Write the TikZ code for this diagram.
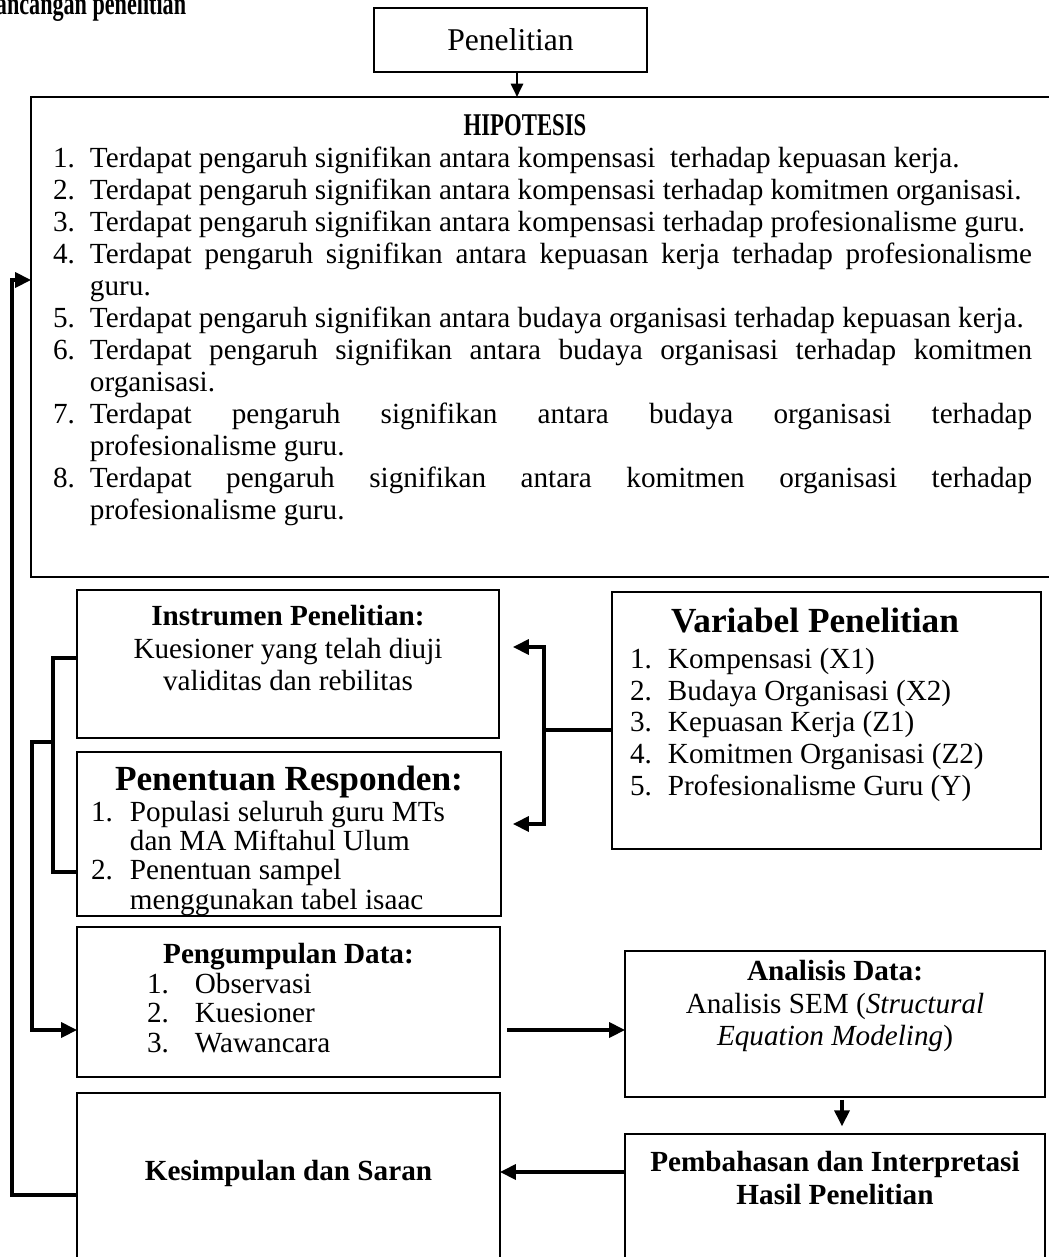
\documentclass[tikz,border=0pt]{standalone}
\usepackage{fontspec}
\usepackage{graphicx}
\setmainfont{Liberation Serif}
\usetikzlibrary{arrows.meta}
\newcommand\bodyf{\fontsize{12pt}{13.15pt}\selectfont}
\newcommand\bigf{\fontsize{14.5pt}{16pt}\selectfont}
\newcommand\nm[2]{\makebox[#1][l]{#2}}
\newcommand\jst[1]{\makebox[387.2pt][s]{#1}}
\newcommand\mkbox[5]{\node[box, anchor=north west, minimum width={(#4-#2)*0.411pt}, minimum height={(#5-#3)*0.411pt}] (#1) at (#2,#3) {};}
\begin{document}
\begin{tikzpicture}[x=0.411pt,y=-0.411pt,
  box/.style={draw, line width=0.6pt, inner sep=0pt, outer sep=0pt},
  txt/.style={inner sep=0pt, outer sep=0pt, font=\bodyf},
  conn/.style={line width=1.25pt},
  arr/.style={conn, -{Triangle[length=6.5pt,width=6.2pt]}},
  darr/.style={conn, {Triangle[length=6.5pt,width=6.2pt]}-{Triangle[length=6.5pt,width=6.2pt]}},
  thinarr/.style={line width=1pt, -{Triangle[length=5.5pt,width=5pt]}}]
\useasboundingbox (0,0) rectangle (1049,1257);
\begin{scope}
\clip (0,0) rectangle (1049,1257);
% title
\node[txt, anchor=base west, font=\fontsize{13pt}{15pt}\selectfont\bfseries] (title) at (-4,15) {\scalebox{0.7}[1]{ancangan penelitian}};
% Penelitian
\mkbox{pen}{374}{8}{647}{72}
\node[txt, font=\fontsize{13pt}{15pt}\selectfont] (pent) at (pen.center) {Penelitian};
% Hipotesis
\mkbox{hyp}{31}{97}{1080}{577}
\node[txt, anchor=base, font=\fontsize{13pt}{15pt}\selectfont\bfseries] (hyph) at (525,135) {\scalebox{0.72}[1]{HIPOTESIS}};
\node[txt, anchor=base west] (hypl) at (53,168) {\parbox[t]{420pt}{\raggedright\bodyf
\nm{15.2pt}{1.}Terdapat pengaruh signifikan antara kompensasi\ \ terhadap kepuasan kerja.\\
\nm{15.2pt}{2.}Terdapat pengaruh signifikan antara kompensasi terhadap komitmen organisasi.\\
\nm{15.2pt}{3.}Terdapat pengaruh signifikan antara kompensasi terhadap profesionalisme guru.\\
\nm{15.2pt}{4.}\jst{Terdapat pengaruh signifikan antara kepuasan kerja terhadap profesionalisme}\\
\hspace*{15.2pt}guru.\\
\nm{15.2pt}{5.}Terdapat pengaruh signifikan antara budaya organisasi terhadap kepuasan kerja.\\
\nm{15.2pt}{6.}\jst{Terdapat pengaruh signifikan antara budaya organisasi terhadap komitmen}\\
\hspace*{15.2pt}organisasi.\\
\nm{15.2pt}{7.}\jst{Terdapat pengaruh signifikan antara budaya organisasi terhadap}\\
\hspace*{15.2pt}profesionalisme guru.\\
\nm{15.2pt}{8.}\jst{Terdapat pengaruh signifikan antara komitmen organisasi terhadap}\\
\hspace*{15.2pt}profesionalisme guru.}};
% Instrumen
\mkbox{instr}{77}{590}{499}{738}
\node[txt, anchor=base, font=\bodyf\bfseries] (instrh) at (288,625) {Instrumen Penelitian:};
\node[txt, anchor=base] (instr1) at (288,658) {Kuesioner yang telah diuji};
\node[txt, anchor=base] (instr2) at (288,690) {validitas dan rebilitas};
% Penentuan
\mkbox{resp}{77}{752}{501}{916}
\node[txt, anchor=base, font=\bigf\bfseries] (resph) at (289,790) {Penentuan Responden:};
\node[txt, anchor=base west] (respl) at (91,821) {\parbox[t]{160pt}{\raggedright\bodyf\baselineskip=12.1pt
\nm{16pt}{1.}Populasi seluruh guru MTs\\
\hspace*{16pt}dan MA Miftahul Ulum\\
\nm{16pt}{2.}Penentuan sampel\\
\hspace*{16pt}menggunakan tabel isaac}};
% Pengumpulan
\mkbox{kump}{77}{927}{500}{1077}
\node[txt, anchor=base, font=\bodyf\bfseries] (kumph) at (288.5,963) {Pengumpulan Data:};
\node[txt, anchor=base west] (kumpl) at (147,993) {\parbox[t]{120pt}{\raggedright\bodyf\baselineskip=12.3pt
\nm{19.7pt}{1.}Observasi\\
\nm{19.7pt}{2.}Kuesioner\\
\nm{19.7pt}{3.}Wawancara}};
% Kesimpulan
\mkbox{kes}{77}{1093}{500}{1290}
\node[txt, anchor=base, font=\bodyf\bfseries] (kest) at (288.5,1180) {Kesimpulan dan Saran};
% Variabel
\mkbox{var}{612}{592}{1041}{849}
\node[txt, anchor=base, font=\bigf\bfseries] (varh) at (815,632) {Variabel Penelitian};
\node[txt, anchor=base west] (varl) at (630,668) {\parbox[t]{165pt}{\raggedright\bodyf\baselineskip=13.15pt
\nm{15.6pt}{1.}Kompensasi (X1)\\
\nm{15.6pt}{2.}Budaya Organisasi (X2)\\
\nm{15.6pt}{3.}Kepuasan Kerja (Z1)\\
\nm{15.6pt}{4.}Komitmen Organisasi (Z2)\\
\nm{15.6pt}{5.}Profesionalisme Guru (Y)}};
% Analisis
\mkbox{ana}{625}{951}{1045}{1097}
\node[txt, anchor=base, font=\bodyf\bfseries] (anah) at (835,980) {Analisis Data:};
\node[txt, anchor=base] (ana1) at (835,1013) {Analisis SEM (\textit{Structural}};
\node[txt, anchor=base] (ana2) at (835,1045) {\textit{Equation Modeling})};
% Pembahasan
\mkbox{pem}{625}{1134}{1045}{1290}
\node[txt, anchor=base, font=\bodyf\bfseries] (pem1) at (835,1171) {Pembahasan dan Interpretasi};
\node[txt, anchor=base, font=\bodyf\bfseries] (pem2) at (835,1204) {Hasil Penelitian};
% connectors
\draw[thinarr] (pen.south -| 517,0) -- (hyp.north -| 517,0);
\coordinate (vj) at (544,730);
\coordinate (vt) at (544,647);
\coordinate (vb) at (544,824);
\coordinate (ti) at (513,647);
\coordinate (tr) at (513,824);
\draw[conn] (var.west |- vj) -- (vj);
\draw[darr] (ti) -- (vt) -- (vb) -- (tr);
\coordinate (b1) at (53,658);
\coordinate (b2) at (53,872);
\draw[conn] (instr.west |- b1) -- (b1) -- (b2) -- (resp.west |- b2);
\coordinate (c1) at (53,742);
\coordinate (c2) at (32,742);
\coordinate (c3) at (32,1030);
\draw[arr] (c1) -- (c2) -- (c3) -- (kump.west |- c3);
\coordinate (d1) at (507,1030);
\draw[arr] (d1) -- (ana.west |- d1);
\coordinate (g) at (842,0);
\draw[arr, shorten <=1.2pt, shorten >=3.2pt] (ana.south -| g) -- (pem.north -| g);
\coordinate (e1) at (0,1172);
\draw[arr] (pem.west |- e1) -- (kes.east |- e1);
\coordinate (f1) at (12,1195);
\coordinate (f2) at (12,280);
\draw[arr] (kes.west |- f1) -- (f1) -- (f2) -- (hyp.west |- f2);
\end{scope}
\end{tikzpicture}
\end{document}
